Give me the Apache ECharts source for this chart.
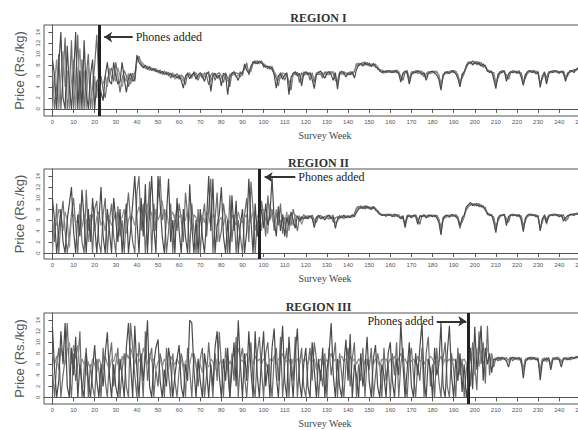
<!DOCTYPE html>
<html>
<head>
<meta charset="utf-8">
<script src="https://cdn.jsdelivr.net/npm/echarts@6/dist/echarts.min.js"></script>
<style>html,body{margin:0;padding:0;background:#fff}#c{width:578px;height:430px}</style>
</head>
<body>
<div id="c"></div>
<script>
// Tick labels
const xTicks = [0,10,20,30,40,50,60,70,80,90,100,110,120,130,140,150,160,170,180,190,200,210,220,230,240,250];
const yTicks = [0,2,4,6,8,10,12,14];
const regionTitles = ['REGION I','REGION II','REGION III'];
const phoneWeeks = [22, 98, 197];
const firstWeek = 0;

// Region I market prices (Rs./kg), weekly from week 0
const r1a = [9,6,0,8,14,2,0,11.5,4,0,
6,14,0,7,0,12.5,3,0,6,9,
0,5,5.5,3,1.5,6,8.5,5,4.5,8.5,
6,4.5,5,8.5,5.5,3,5.5,6.5,5,5.5,
9.8,8.5,8,7.5,8,7.2,7.6,7,7.4,6.8,
7,6.6,6.8,6.4,6.6,6.2,6.5,5.8,6.2,5.6,
6,5.2,3.8,6,6.4,5.5,6.2,6.6,5.4,6.2,
6.6,6,5,6.4,6.8,3.2,6,6.5,5.6,6.2,
4.2,6.5,6.2,2.6,5.8,6.4,6.8,6,5.2,6.6,
6.4,8.2,7,6.5,7.8,8.4,8.6,8.2,8.7,8.4,
8,7.6,7.8,7.4,7.5,6.2,3.8,6,6.4,5.4,
6.2,6.6,2.6,5.8,6.4,6.8,6,6.5,4.2,6.4,
6.8,6.2,6.6,5.4,3.7,6.2,6.6,6.9,6.2,5.6,
6.5,6.8,6.2,5.2,6.6,3.6,6.4,6.9,6.5,5.8,
6.6,6.2,6.8,5.6,7.2,8,8.3,7.8,8.4,8.1,
8.2,7.7,8.3,7.6,7.5,7,6.6,6.9,6.7,7,
6.8,6.6,7,6.8,6.4,4.9,6.5,6.9,6.6,4.5,
6.2,6.8,6.6,7,6.7,6.2,6.6,5.2,6.4,6.8,
6.9,6.5,6.2,5.4,3.4,6,6.6,6.8,6.4,7,
6.8,6.4,5.6,4,6.2,6.8,7.8,8.2,8.6,8,
8.5,8.2,8.4,7.8,8.2,7.6,7,6.6,6.9,5.4,
3.7,6.2,6.8,6.6,7,5,6.4,6.8,6.6,6.9,
6.5,6.8,5.8,4.3,6.2,6.8,7,6.6,6.9,6.4,
6.7,3.9,6,6.6,4.5,6.4,6.9,6.6,7,6.8,
6.5,6.9,6.6,5,6.4,6.8,7,6.6,7.2,7.4];
const r1b = [7,0,4,10,0,6,13,0,3,12.5,
0,5,13.5,0,9,0,6,10,0,4,
8,13.5,4.5,6,3.5,2,5.5,6.5,7.5,5,
8.5,6,3,5.5,7,6,4,5.5,6.5,5,
9,9.6,8.2,7.8,7.4,7.8,7,7.5,6.9,7.3,
6.6,7.1,6.3,6.9,6.2,6.7,5.6,6.3,6,6.4,
5.4,6.2,5.8,4.4,6.6,6.2,5.6,6.8,6.2,5.2,
6.4,5.6,6.6,6,4.4,6.2,6.6,5.2,6.4,6.6,
6,4.8,6.6,5.6,4,6.6,6.2,6.6,6.4,5.8,
6.8,7.2,8.4,6.2,7.2,8.7,8.2,8.8,8.3,8.8,
7.6,8,7.3,7.8,7.1,6.6,5.6,4.2,6.6,6.2,
5.2,6.4,4.6,3.4,6.6,6.2,6.7,4.8,6.6,6.1,
6.4,6.7,5.2,6.6,4.8,6.6,6.2,6.5,5.6,6.8,
6.2,6.5,6.8,6.4,5.2,5,6.8,6.3,6.8,6.4,
6.2,6.8,6.4,6.8,8.3,7.8,8.2,8.5,8,8.5,
7.8,8.2,7.8,8.2,7.2,7.2,6.9,6.5,7,6.6,
7,6.8,6.6,7.1,6.6,6,5.2,6.6,7,5.4,
6.6,6.4,7,6.6,6.9,6.6,5.8,6.4,6.8,6.5,
6.6,6.9,6.6,6.2,4.4,5.8,6.8,6.4,6.9,6.6,
7,6.8,6.2,4.8,5.6,6.4,8,8.6,8.2,8.8,
8.2,8.7,8,8.5,7.6,8,6.8,7,6.6,6.6,
4.6,5.6,6.6,7,6.7,6.2,5.4,6.6,7,6.7,
6.9,6.5,6.6,5,5.6,6.6,6.8,7,6.6,6.9,
6.4,4.8,5.4,6.8,5.6,6.8,6.6,7,6.7,6.9,
6.8,6.6,6.9,5.8,6,7,6.8,7.2,7,7.6];
const r1c = [0,5,9,0,6,10.5,4,7,0,5,
9,0,6,11,4,7,0,8,5,0,
6,2,7,5,4.5,6,4,7.5,5.5,6,
5,7.5,6,4,6,5,6.5,4.5,6,6.5,
8.6,9.2,8.6,8.2,7.6,7.4,7.8,7.2,7,7.4,
6.8,6.4,6.9,6.2,6.8,6,6.2,6.6,5.4,6,
6.2,5.8,5,5.6,6.2,6.6,5.8,6.2,6.6,5.8,
6,6.4,5.8,6.6,6.2,5,6.4,6,6.2,5.4,
5.6,6.2,5.6,5,6.4,6,6.6,5.8,6.2,6.8,
6,7.8,7.6,7,6.8,8.2,8.8,8.5,8.2,8.6,
8.3,7.8,7.6,7.2,7.8,6.8,6.2,5.2,5.6,6.6,
6.4,6,5.2,4.4,6.2,6.6,6.4,6.2,5.2,6.8,
6.2,6.6,6,6.2,5.4,6.4,6.8,6.2,6.6,6.2,
6.8,6.2,6.5,6.8,6,4.6,6.2,6.6,6.2,6.6,
6.4,6.6,6.2,7,7.8,8.4,8,8.2,8.6,7.9,
8.4,8,8,7.8,7.8,6.8,7.1,6.8,6.6,6.9,
6.6,7,6.8,6.6,6.9,5.6,6.2,6.8,6.4,5,
6.8,6.6,6.8,6.4,6.6,6.9,6.4,5.8,6.6,6.4,
6.8,6.6,6.9,6,4,6.4,6.4,6.6,6.7,6.8,
6.6,6.9,6,4.4,6.4,6.6,7.4,8.4,8.4,8.3,
8.7,8,8.6,8.1,8,7.8,7.2,6.8,6.7,6,
4.2,6.4,6.4,6.8,6.8,5.6,6.2,6.6,6.8,6.6,
6.6,7,6.2,4.6,6.4,6.4,6.8,6.8,7,6.6,
6.9,4.4,5.8,6.4,5,6.6,6.6,6.8,6.9,6.6,
6.6,6.8,6.4,5.4,6.6,6.6,6.9,6.9,7.1,7.2];

// Region II
const r2a = [9.8,6,0,4,8,2,0,6,9,12,
4,0,7,3,11.5,6,0,8,2,10,
5,0,6,12,3,0,8,4,0,10,
6,2,8,0,5,9,0,4,9,14,
6,0,10,3,12.5,0,8,14,5,0,
14,9,3,0,7,13.5,2,6,0,10,
4,0,8,3,0,12.5,5,0,6,0,
8,3,0,6,14,4,13.5,0,5,7,
12,3,0,6,0,10.5,4,9.5,0,5,
8,0,4,13.5,6,0,9,3,6,8,
4.5,9,5,7,13.7,6,3,8.5,4,7,
3,6.5,5,7.5,6,4.5,6.8,5.8,6.6,6.2,
6.6,6.2,6.8,6.4,4.6,6.4,6.9,6.2,6.6,6,
6.6,6.9,6.2,6.6,4.5,6.2,6.8,6.4,6.9,6.4,
6.8,6.4,7,6.6,7.4,8,8.4,8.1,8.6,8.2,
8.4,7.9,8.5,7.8,7.6,7.2,6.8,7,6.7,7,
6.9,6.6,7.1,6.8,6.6,6.2,6.8,4.6,6.6,6.8,
6.4,6.9,6.7,5.2,6.8,6.6,7,6.4,6.8,6.9,
6.6,6.9,6.4,5.6,3.3,6.2,6.8,6.9,6.5,7,
6.9,6.6,6.2,4.8,6.4,6.9,8.4,8.8,9.2,8.6,
9,8.6,8.8,8.4,8.6,7.8,7.2,6.8,7,5.6,
3.7,6.4,6.9,6.8,7.1,5,6.6,7,6.8,7,
6.7,7,6,3.9,6.4,6.9,7.1,6.8,7,6.6,
6.8,4,6.2,6.8,5.5,6.6,7,6.8,7.1,6.9,
6.6,7,5.8,6.4,6.8,6.9,7.1,6.8,7.2,7];
const r2b = [6,2,9,0,6,9.5,4,0,3,7,
10,5,0,9,2,0,11.5,4,7,0,
8,9.5,2,0,7,10,0,6,9,3,
0,8.5,3,6,0,7,11,6,2,0,
11,14,4,9,0,6,13,0,9,4,
10,14,6,8,0,4,9,0,7,4,
9,6,2,11,7,0,9,4,0,8,
0,6,9,3,8,13.5,0,6,11,2,
4,9,6,0,10.5,2,7,0,6,3,
0,7,10,2,13,8,0,6,2,9.5,
7,3,10.5,6,8,4,7.5,5,9,3.5,
6.5,2.8,7,5,8,6.2,4,6.6,6,7,
6.2,6.8,6.4,6.9,6,5.6,6.6,6.8,6.2,6.7,
6.4,6.2,6.8,5.6,6.4,6.6,6.2,6.8,6.4,6.8,
6.4,6.8,6.5,7.2,8.2,8.5,8.1,8.5,8,8.6,
8,8.4,8.1,8.2,7.4,7,7.1,6.8,7.1,6.8,
7.1,6.9,6.6,7,6.8,6.6,6.2,5.4,6.9,6.6,
6.8,6.6,7,6.2,5.2,6.9,6.6,6.8,6.5,6.8,
6.9,6.6,6.9,6.2,4.6,6,6.6,6.8,6.9,6.7,
6.7,7,6.6,5.2,5.6,6.6,8,8.6,8.7,9,
8.6,9.1,8.4,8.8,8.2,8.3,7,7.1,6.7,6.6,
4.6,5.8,6.6,7,6.8,6.2,5.6,6.8,7.1,6.8,
7,6.6,6.8,5,5.8,6.8,6.8,7.1,6.8,7,
6.5,4.6,5.6,7,6,6.9,6.8,7.1,6.8,7,
7,6.6,7,5.8,6.2,7.1,6.9,7.2,7,7.4];
const r2c = [0,6.5,5,8,7,4,7.5,6,1,6.5,
7,5.5,6,8,4.5,7,6,2,6.5,7,
4,6.5,7.5,5,6,4,7,6.5,5,6,
7.5,5,6,6.5,8,3.5,6,7,6.5,5,
7,8.5,6.5,5,7.5,9,6,7.5,4,8,
6,7,9.5,6,8,5,6.5,7.5,6,8.5,
6.5,7,5.5,6,8,6.5,4,7,6.5,5,
6,7,5.5,7.5,6.5,5,7,6.5,2,6,
6.5,5,7,6,5.5,7,6,5,7.5,6,
5.5,6.5,7,5,6,7.5,4,6.5,7.5,4,
8,6,3.5,9,6.5,5,8,6.5,5.5,7,
5.5,7.5,4,6.5,5,7,6.4,6.8,5.2,6.4,
6.8,6.4,6.6,6.2,5.4,6.6,6.4,6.9,6.4,6.4,
6.9,6.5,6.6,6.9,5.4,5.8,6.6,6.6,6.2,6.6,
6.6,6.6,6.8,6.8,7.8,8.2,8.6,8.2,8.4,8.2,
8.2,8.2,8.4,8,7.8,7.1,6.9,7,6.9,7.1,
6.8,7,6.9,6.7,7,6.4,6.6,5,6.4,7,
6.6,6.8,6.8,5.8,6.6,6.8,6.8,6.6,7,6.6,
6.8,6.8,6.6,6,3.8,6.6,6.4,6.6,6.8,6.9,
6.8,6.8,6.4,4.4,6,6.8,7.8,8.4,8.9,8.8,
8.8,8.8,9,8.6,8.4,8,7.4,7,6.9,6.2,
4.1,6.2,6.6,6.9,7,5.6,6.4,6.9,7,6.9,
6.8,6.8,6.4,4.4,6.2,6.6,7,7,6.8,6.8,
6.6,4.2,6,6.6,5.2,6.8,6.9,7,6.9,6.8,
6.8,6.8,6.4,6,6.6,7,7,7,7.1,7.2];

// Region III
const r3a = [12.8,5,0,3,12,6,13.5,2,0,9,
4,11,0,6,2,0,8,3,0,5,
9.5,3,0,6,2,8,11.8,4,0,6,
2,0,7,4,0,9,13.5,6,0,13,
5,0,8,3,7,14,2,0,6,9,
10.5,3,0,5,2,9,6,0,4,7,
9.5,2,0,6,3,14,13.5,5,0,7,
3,0,8,5,0,6,2,9,12,4,
0,7,3,9,0,5,10,2,14,6,
0,8,3,12,5,0,12,4,0,7,
12,2,6,0,9,12.5,4,0,7,13,
3,0,11,5,0,8,12.5,3,0,6,
9,2,0,10,5,0,7,3,9,0,
5,8,13.5,4,0,7,2,0,6,10.5,
3,11.5,0,6,4,0,8,2,5,11,
3,0,7,9.5,2,0,6,4,0,8,
10,3,0,7,4,13.5,6,0,5,10,
2,0,8,4,9,13.5,3,0,7,5,
0,9,4,6,13.5,2,0,8,13,4,
0,7,3,8,1,6,0,3,9,1.5,
12.8,5,8,13,3,9,6,8,4.5,7,
6.8,7.2,6.9,7.3,7,6.6,5.5,7,7.3,6.9,
7.2,7,6.8,3.5,6.5,7,7.3,6.9,7.2,6.8,
7,3.1,6.4,7,6.8,7.2,5,6.9,7.2,7,
6.8,5.5,7,7.2,6.8,7.1,7.3,7,7.4,7.2];
const r3b = [5,0,6,9,0,4,7,13.5,5,0,
8,3,6,12,0,5,9,0,6,2,
0,7,5,0,9,3,0,7,10,2,
6,9,0,5,8,2,0,13.5,9,4,
0,10,6,0,12,3,7,9,0,5,
2,8,6,0,9,4,0,8,3,0,
5,8,6,0,9,5,0,8,6,2,
7,9,0,4,10,5,0,8,3,11.9,
6,0,9,5,0,8,3,11,0,7,
9,4,0,6,10,3,0,8,11,5,
0,8,10,4,0,7,9,3,11,0,
6,9,0,7,3,11,0,6,9,2,
0,6,9,3,10,7,0,5,2,8,
0,9,4,7,10,0,8,4,0,6,
9,2,7,10,0,6,3,9,0,7,
5,9,0,4,8,6,0,9,3,6,
0,8,4,10,0,6,9,3,0,7,
9,4,0,6,3,9,0,8,11,2,
6,0,9,3,0,7,10,2,0,8,
5,0,9,4,7,0,5,8,2,10,
6,1.3,12,6,10,2.5,13,4,8,5.5,
7.2,6.6,7.3,6.8,7.2,7,6.8,7.3,6.6,7.2,
6.8,7.3,6.2,5.2,7,6.8,7.1,7.3,6.9,7.2,
6.6,5,7,6.6,7.2,6.8,6,7.2,6.8,7.3,
7.1,6.6,6.9,7,7.2,6.8,7,7.3,7.1,7.5];
const r3c = [8,6,7.5,5,9,7,6,8.5,10,6,
9.5,7,9.5,5,7,6,4,6.5,5,7,
6,4.5,7,6,5,7.5,6,5,7,6.5,
8,6,5,7.5,6,8,7,9,7.5,6,
8,7,6,9,7.5,6,8,6.5,7,5,
6.5,7,5.5,7,6,5,7.5,6.5,6,7,
6,7,5,6.5,7,6,8,7,5.5,6.5,
6,4.5,7,6,5.5,7,6.5,5,7,6,
7,6,6.5,7.5,6,7,8,6.5,9,7,
6.5,7,8,6.5,7,6,7.5,6.5,7,6,
7,6.5,5,7,6.5,7.5,6,7,6.5,8,
7,6.5,7,5.5,7,6.5,7,6,7.5,6.5,
7,6,7.5,6.5,7,5,6.5,7,6,7.5,
6.5,7,8,6.5,7,6,7,7.5,6.5,7,
6,7.5,6.5,7,6,7,6.5,7.5,6,7,
6.5,7,6,7,6.5,5.5,7,6.5,7,6,
7,6.5,7.5,6,7,8,6.5,7,6,7,
6.5,7,6,7.5,6.5,7,6,7,6.5,7.5,
7,6,7,6.5,7.5,6,7,6.5,7,6,
7,6.5,6,7,6.5,7,6,6,7,8.5,
4,9,5.5,8.5,6,7.5,9,6.5,7.5,6,
7,7.3,6.6,7.1,6.9,7.3,6.4,6.8,7.1,7.3,
6.9,6.8,7.2,4.8,6.8,7.2,6.8,7,7.3,7,
7.2,4.2,6.8,7.2,6.4,7,5.8,7,7,6.9,
7,6.2,7.2,6.8,7,7.3,6.9,7.2,7.2,7.3];

const regionSeries = [[r1a,r1b,r1c],[r2a,r2b,r2c],[r3a,r3b,r3c]];

// Layout / style (not data)
const gridTops = [25, 169, 313];
const gridHeights = [91, 90, 91];
const yMins = [-1.3, -1.1, -1.2];
const titleY = [17.5, 162.5, 306.5];
const lineColors = ['#4a4a4a', '#6c6c6c', '#8e8e8e'];
// arrow annotation (data coords): [fromWeek, toWeek, price, arrowAtStart]
const arrows = [[24.5, 38, 13.1, true], [100.5, 115, 13.8, true], [182, 196, 13.8, false]];

const chart = echarts.init(document.getElementById('c'), null, {renderer: 'svg'});

const grids = [], xAxes = [], yAxes = [], series = [], graphics = [];
for (let i = 0; i < 3; i++) {
  grids.push({left: 44, top: gridTops[i], width: 549, height: gridHeights[i],
    outerBoundsMode: 'none', containLabel: false,
    show: true, borderColor: '#555', borderWidth: 1, backgroundColor: 'transparent'});
  xAxes.push({type: 'value', gridIndex: i, min: -4, max: 256,
    axisLine: {show: true, lineStyle: {color: '#555', width: 1}},
    axisTick: {show: true, customValues: xTicks, length: 4, lineStyle: {color: '#555'}},
    axisLabel: {customValues: xTicks, fontSize: 6, color: '#555', margin: 3, fontFamily: 'Liberation Sans'},
    splitLine: {show: false},
    name: 'Survey Week', nameLocation: 'middle', nameGap: 14,
    nameTextStyle: {fontFamily: 'Liberation Serif', fontSize: 10, color: '#444', padding: [0, 0, 0, 13]}
  });
  yAxes.push({type: 'value', gridIndex: i, min: yMins[i], max: 15.3,
    axisLine: {show: true, lineStyle: {color: '#555', width: 1}},
    axisTick: {show: true, customValues: yTicks, length: 4, lineStyle: {color: '#555'}},
    axisLabel: {customValues: yTicks, rotate: 90, fontSize: 6, color: '#555', margin: 3, fontFamily: 'Liberation Sans'},
    splitLine: {show: false},
    name: 'Price (Rs./kg)', nameLocation: 'middle', nameGap: 18,
    nameTextStyle: {fontFamily: 'Liberation Sans', fontSize: 13, color: '#555'}
  });
  const a = arrows[i];
  regionSeries[i].forEach((arr, k) => {
    const s = {type: 'line', xAxisIndex: i, yAxisIndex: i,
      data: arr.map((v, w) => [firstWeek + w, v]),
      showSymbol: false, symbol: 'none', silent: true, animation: false,
      lineStyle: {width: 1.2, color: lineColors[k]}, z: 2 + k};
    if (k === 0) {
      s.markLine = {silent: true, animation: false, symbol: ['none', 'none'], label: {show: false},
        data: [
          {xAxis: phoneWeeks[i], lineStyle: {color: '#222', width: 3, type: 'solid'}, label: {show: false}},
          [
            {coord: [a[0], a[2]], symbol: a[3] ? 'arrow' : 'none', symbolSize: 8,
             lineStyle: {color: '#333', width: 2, type: 'solid'},
             label: {show: true, position: a[3] ? 'end' : 'start', formatter: 'Phones added',
                     fontFamily: 'Liberation Serif', fontSize: 12, color: '#222', distance: 3}},
            {coord: [a[1], a[2]], symbol: a[3] ? 'none' : 'arrow', symbolSize: 8}
          ]
        ]};
      s.z = 10;
    }
    series.push(s);
  });
  graphics.push({type: 'text', x: 318.5, y: titleY[i], z: 20,
    style: {text: regionTitles[i], font: 'bold 12px "Liberation Serif"', fill: '#333',
            align: 'center', verticalAlign: 'middle', textAlign: 'center', textVerticalAlign: 'middle'}});
}

chart.setOption({
  backgroundColor: '#fff',
  animation: false,
  grid: grids, xAxis: xAxes, yAxis: yAxes, series: series, graphic: graphics
});
</script>
</body>
</html>
